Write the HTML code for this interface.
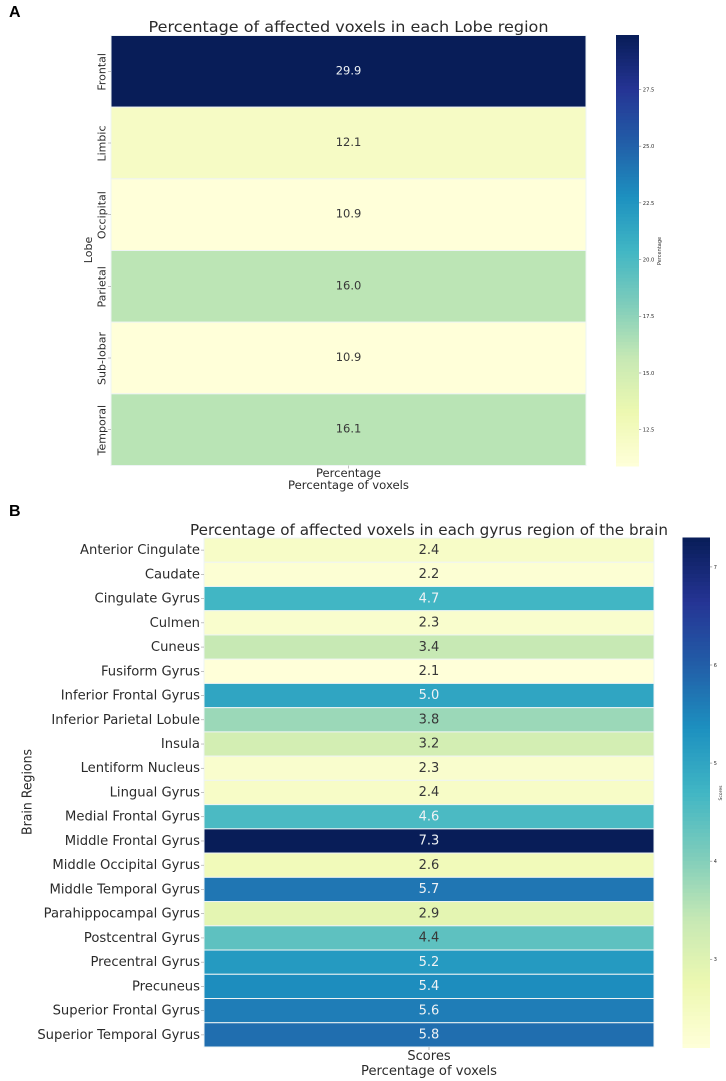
<!DOCTYPE html>
<html lang="en">
<head>
<meta charset="utf-8">
<title>Percentage of affected voxels heatmaps</title>
<style>
html,body{margin:0;padding:0;background:#fff;width:726px;height:1081px;overflow:hidden}
svg{display:block}
text{font-family:"DejaVu Sans","Liberation Sans",sans-serif;fill:#2c2c2c}
</style>
</head>
<body>
<svg id="chart" xmlns="http://www.w3.org/2000/svg" width="726" height="1081" viewBox="0 0 726 1081">
  <defs>
    <filter id="soft" x="-5%" y="-5%" width="110%" height="110%"><feGaussianBlur stdDeviation="0.35"/></filter>
  </defs>
  <text x="9" y="17" style="font-family:'Liberation Sans',sans-serif;font-weight:bold;font-size:16px;fill:#000">A</text>
  <text x="9" y="516" style="font-family:'Liberation Sans',sans-serif;font-weight:bold;font-size:16px;fill:#000">B</text>

  <g id="panelA">
    <g id="cellsA"></g>
    <g id="barA"></g>
    <g id="labelsA" filter="url(#soft)">
      <text x="348.5" y="32" text-anchor="middle" font-size="15.5" textLength="400" lengthAdjust="spacingAndGlyphs">Percentage of affected voxels in each Lobe region</text>
      <text transform="translate(92 250) rotate(-90)" text-anchor="middle" font-size="11">Lobe</text>
      <text x="348.5" y="477" text-anchor="middle" font-size="11.6" textLength="65" lengthAdjust="spacingAndGlyphs">Percentage</text>
      <text x="348.5" y="489" text-anchor="middle" font-size="11.6" textLength="121" lengthAdjust="spacingAndGlyphs">Percentage of voxels</text>
      <text transform="translate(661 251) rotate(-90)" text-anchor="middle" font-size="5">Percentage</text>
    </g>
  </g>

  <g id="panelB">
    <g id="cellsB"></g>
    <g id="barB"></g>
    <g id="labelsB" filter="url(#soft)">
      <text x="429" y="535" text-anchor="middle" font-size="15.5" textLength="478" lengthAdjust="spacingAndGlyphs">Percentage of affected voxels in each gyrus region of the brain</text>
      <text transform="translate(31.5 792) rotate(-90)" text-anchor="middle" font-size="13" textLength="86" lengthAdjust="spacingAndGlyphs">Brain Regions</text>
      <text x="429" y="1060" text-anchor="middle" font-size="13">Scores</text>
      <text x="429" y="1075" text-anchor="middle" font-size="13" textLength="136" lengthAdjust="spacingAndGlyphs">Percentage of voxels</text>
      <text transform="translate(722 793) rotate(-90)" text-anchor="middle" font-size="4.5">Scores</text>
    </g>
  </g>
</svg>
<script>
var lobeCategories = ["Frontal", "Limbic", "Occipital", "Parietal", "Sub-lobar", "Temporal"];
var lobeValues = [29.9, 12.1, 10.9, 16.0, 10.9, 16.1];
var lobeColorbarTicks = [12.5, 15.0, 17.5, 20.0, 22.5, 25.0, 27.5];

var gyrusCategories = ["Anterior Cingulate", "Caudate", "Cingulate Gyrus", "Culmen", "Cuneus", "Fusiform Gyrus", "Inferior Frontal Gyrus", "Inferior Parietal Lobule", "Insula", "Lentiform Nucleus", "Lingual Gyrus", "Medial Frontal Gyrus", "Middle Frontal Gyrus", "Middle Occipital Gyrus", "Middle Temporal Gyrus", "Parahippocampal Gyrus", "Postcentral Gyrus", "Precentral Gyrus", "Precuneus", "Superior Frontal Gyrus", "Superior Temporal Gyrus"];
var gyrusValues = [2.4, 2.2, 4.7, 2.3, 3.4, 2.1, 5.0, 3.8, 3.2, 2.3, 2.4, 4.6, 7.3, 2.6, 5.7, 2.9, 4.4, 5.2, 5.4, 5.6, 5.8];
var gyrusColorbarTicks = [3, 4, 5, 6, 7];

var ylGnBu = [[255,255,217],[237,248,177],[199,233,180],[127,205,187],[65,182,196],[29,145,192],[34,94,168],[37,52,148],[8,29,88]];
var NS = "http://www.w3.org/2000/svg";

function make(parent, tag, attrs, content) {
  var el = document.createElementNS(NS, tag);
  for (var k in attrs) el.setAttribute(k, attrs[k]);
  if (content !== undefined) el.textContent = content;
  parent.appendChild(el);
  return el;
}
function rgbAt(t) {
  t = Math.max(0, Math.min(1, t));
  var p = t * (ylGnBu.length - 1), i = Math.min(Math.floor(p), ylGnBu.length - 2), f = p - i;
  return [0, 1, 2].map(function (c) { return Math.round(ylGnBu[i][c] + (ylGnBu[i + 1][c] - ylGnBu[i][c]) * f); });
}
function css(rgb) { return "rgb(" + rgb.join(",") + ")"; }
function luminance(rgb) {
  var l = rgb.map(function (v) { v /= 255; return v <= 0.03928 ? v / 12.92 : Math.pow((v + 0.055) / 1.055, 2.4); });
  return 0.2126 * l[0] + 0.7152 * l[1] + 0.0722 * l[2];
}
function extent(values) { return [Math.min.apply(null, values), Math.max.apply(null, values)]; }

function drawHeatmap(opts) {
  var range = extent(opts.values);
  var norm = function (v) { return (v - range[0]) / (range[1] - range[0]); };
  var rowH = (opts.bottom - opts.top) / opts.categories.length;
  var yOf = function (i) { return opts.top + i * rowH; };
  var cells = document.getElementById(opts.cellsId);
  var labels = document.getElementById(opts.labelsId);
  var bar = document.getElementById(opts.barId);
  var midX = (opts.left + opts.right) / 2;

  opts.values.forEach(function (v, i) {
    var rgb = rgbAt(norm(v));
    var cell = make(cells, "rect", { x: opts.left, y: yOf(i), width: opts.right - opts.left, height: rowH, fill: css(rgb), stroke: "#eef4f4", "stroke-width": 1 });
    
    

    var value = make(labels, "text", { x: midX, y: yOf(i) + rowH / 2 + opts.annotOffset, "text-anchor": "middle", "font-size": opts.annotSize }, v.toFixed(1));
    value.style.fill = luminance(rgb) < 0.408 ? "#eef2f5" : "#383838";
    
    

    var tick = make(cells, "line", { x1: opts.left - 3, x2: opts.left, y1: yOf(i) + rowH / 2, y2: yOf(i) + rowH / 2, stroke: "#999", "stroke-width": 0.6 });
    
    

    var attrs = opts.rotateLabels
      ? { transform: "translate(" + opts.labelX + " " + (yOf(i) + rowH / 2 + 0.5) + ") rotate(-90)", "text-anchor": "middle", "font-size": opts.labelSize }
      : { x: opts.labelX, y: yOf(i) + rowH / 2 + opts.labelSize * 0.34 - 0.5, "text-anchor": "end", "font-size": opts.labelSize };
    var label = make(labels, "text", attrs, opts.categories[i]);
    
    
  });

  var xTick = make(cells, "line", { x1: midX, x2: midX, y1: opts.bottom, y2: opts.bottom + 3, stroke: "#999", "stroke-width": 0.6 });
  
  

  var barY = function (v) { return opts.barBottom - norm(v) * (opts.barBottom - opts.barTop); };
  var steps = 128;
  for (var s = 0; s < steps; s++) {
    var lo = range[0] + (range[1] - range[0]) * s / steps;
    var hi = range[0] + (range[1] - range[0]) * (s + 1) / steps;
    var slice = make(bar, "rect", { x: opts.barLeft, y: barY(hi), width: opts.barRight - opts.barLeft, height: barY(lo) - barY(hi) + 0.5, fill: css(rgbAt((s + 0.5) / steps)) });
    
    
  }
  opts.barTicks.forEach(function (t) {
    var mark = make(bar, "line", { x1: opts.barRight, x2: opts.barRight + 2.2, y1: barY(t), y2: barY(t), stroke: "#666", "stroke-width": 0.5 });
    
    
    var tickLabel = make(labels, "text", { x: opts.barRight + 3.8, y: barY(t) + 1.9, "font-size": opts.barTickSize }, t.toFixed(opts.barDecimals));
    
    
  });
}

drawHeatmap({
  categories: lobeCategories, values: lobeValues, barTicks: lobeColorbarTicks,
  cellsId: "cellsA", labelsId: "labelsA", barId: "barA",
  left: 111, right: 586, top: 35.5, bottom: 465.5,
  labelX: 105.5, labelSize: 11, rotateLabels: true, annotSize: 11.5, annotOffset: 3,
  barLeft: 616, barRight: 639, barTop: 35, barBottom: 466, barTickSize: 5.2, barDecimals: 1
});
drawHeatmap({
  categories: gyrusCategories, values: gyrusValues, barTicks: gyrusColorbarTicks,
  cellsId: "cellsB", labelsId: "labelsB", barId: "barB",
  left: 204, right: 654, top: 538, bottom: 1047,
  labelX: 200, labelSize: 13.15, rotateLabels: false, annotSize: 13, annotOffset: 3.7,
  barLeft: 682.5, barRight: 710, barTop: 537.5, barBottom: 1047.5, barTickSize: 5, barDecimals: 0
});
</script>
</body>
</html>
